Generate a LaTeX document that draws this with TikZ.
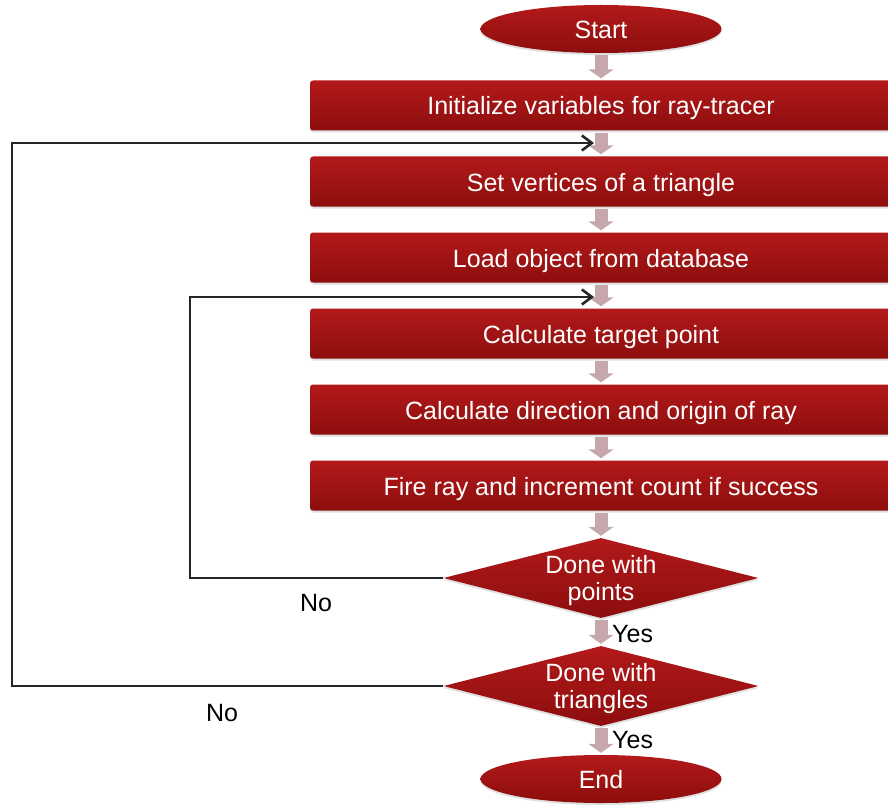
\documentclass[tikz,border=0pt]{standalone}
\usepackage{fontspec}
\setmainfont{Liberation Sans}
\usetikzlibrary{shapes.geometric, arrows.meta, shadows}
\definecolor{boxtop}{HTML}{B3191A}
\definecolor{boxbot}{HTML}{8C0E0D}
\definecolor{flowarr}{HTML}{C6A7AB}

\begin{document}
\begin{tikzpicture}[x=1pt, y=-1pt,
  every node/.style={font=\fontsize{25}{27}\selectfont},
  redfill/.style={top color=boxtop, bottom color=boxbot, text=white,
    drop shadow={shadow xshift=0pt, shadow yshift=-2pt, opacity=0.25}},
  stepbox/.style={redfill, rectangle, rounded corners=3pt, minimum width=582pt, minimum height=50pt,
    inner sep=0pt, text height=19pt, text depth=0pt},
  terminal/.style={redfill, ellipse, minimum width=241pt, minimum height=48pt, inner sep=0pt,
    text height=19pt, text depth=0pt},
  decision/.style={redfill, diamond, aspect=3.9, minimum width=315pt, minimum height=80pt, inner sep=0pt,
    align=center, text depth=0pt},
  flow/.style={draw=flowarr, line width=13pt, -{Triangle[width=25pt,length=9pt]}, shorten <=2pt, shorten >=2pt},
  loopline/.style={draw=black!85, line width=1.2pt, -{Straight Barb[length=10pt,width=15pt,line width=2.6pt]}}]
  \useasboundingbox (0,0) rectangle (888,805);
  \clip (0,0) rectangle (888,805);
  % main column
  \node[terminal] (start) at (601,29) {Start};
  \node[stepbox] (init) at (601,105.5) {Initialize variables for ray-tracer};
  \node[stepbox] (verts) at (601,181.5) {Set vertices of a triangle};
  \node[stepbox] (load) at (601,257.5) {Load object from database};
  \node[stepbox] (target) at (601,333.5) {Calculate target point};
  \node[stepbox] (dir) at (601,409.5) {Calculate direction and origin of ray};
  \node[stepbox] (fire) at (601,485.5) {Fire ray and increment count if success};
  \node[decision] (donepts) at (601,578) {Done with\\points};
  \node[decision] (donetri) at (601,686) {Done with\\triangles};
  \node[terminal] (stop) at (601,779) {End};
  \foreach \a/\b in {start/init, init/verts, verts/load, load/target, target/dir,
                     dir/fire, fire/donepts, donepts/donetri, donetri/stop}
    \draw[flow] (\a) -- (\b);
  % loops back
  \coordinate (backtri) at (594,143);
  \coordinate (backpts) at (594,297);
  \coordinate (cornertri) at (12,686);
  \coordinate (cornerpts) at (190,578);
  \draw[loopline] (donepts.west) -- (cornerpts) |- (backpts);
  \draw[loopline] (donetri.west) -- (cornertri) |- (backtri);
  \node (nopts) at (316,603) {No};
  \node (notri) at (222,713) {No};
  \node[anchor=west, inner sep=0pt] (yespts) at (612,634) {Yes};
  \node[anchor=west, inner sep=0pt] (yestri) at (612,740) {Yes};
\end{tikzpicture}
\end{document}
